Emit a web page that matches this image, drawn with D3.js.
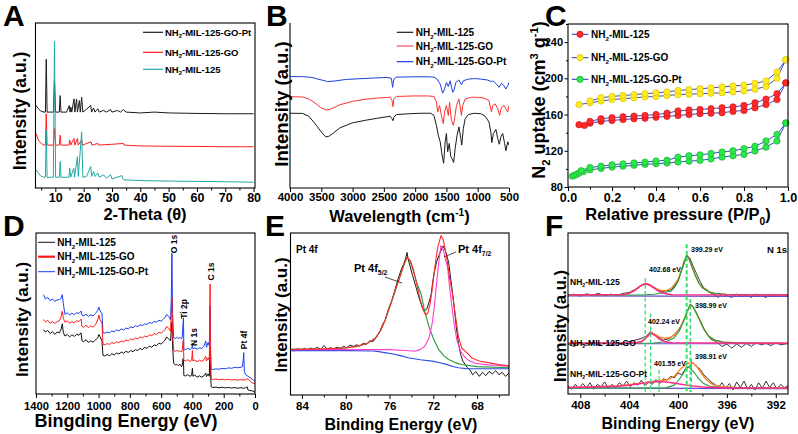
<!DOCTYPE html>
<html><head><meta charset="utf-8">
<script src="https://cdn.jsdelivr.net/npm/d3@7"></script>
<style>body{margin:0;background:#fff}svg{display:block}</style>
</head><body><svg id="c" width="798" height="434"></svg>
<script>
// ================= DATA =================
// ---- Panel A : XRD (2-theta, intensity a.u.) ----
const xrdNames = ["NH2-MIL-125-GO-Pt", "NH2-MIL-125-GO", "NH2-MIL-125"];
const xrdTicks = [10, 20, 30, 40, 50, 60, 70, 80];
const xrdGOPt = [[3.2,50],[4,48],[5,46.5],[6,46],[6.5,46],[6.8,78],[7.1,46],[8,46],[9.3,46],[9.7,65],[10.1,46],[11.4,46],[11.7,56],[12,46],[14,46],[14.9,50],[15.2,46],[15.5,49],[15.8,46],[16.6,54],[16.9,46],[17.5,54],[17.8,46],[18.5,53],[18.8,46],[19.3,55],[19.7,46],[20.5,47],[22.5,50],[22.8,46],[23.5,48.5],[24,46],[25,48],[25.5,46],[27,47],[28,46],[29.5,47.5],[30,46],[32,47],[33,46],[34,47.5],[35,46],[40,45.5],[45,46],[50,45.5],[60,45.2],[70,45],[80,45]];
const xrdGO = [[3.2,33],[4,29],[5,27],[6,26],[6.5,26],[6.8,45],[7.1,26],[9.3,26],[9.7,36],[10.1,26],[11.4,26],[11.7,32],[12,26],[14.8,26],[15.1,29],[15.4,26],[16.6,30],[16.9,26],[17.8,30],[18.1,26],[19.3,29],[19.6,26],[22.6,28],[22.9,26],[25,27],[25.3,26],[30,26.5],[34,27],[34.3,26],[40,25.5],[50,25.3],[60,25.2],[70,25],[80,25]];
const xrdMIL = [[3.2,11],[4,9],[5,7],[6,6.5],[6.5,6.5],[6.8,35],[7.1,6.5],[9.3,6.5],[9.7,89],[10.1,6.5],[11.4,6.5],[11.7,16],[12,6.5],[14.8,6.5],[15.1,12],[15.4,6.5],[16.5,12],[16.8,6.5],[17.8,19],[18.1,7],[19.3,34],[19.7,6.5],[21,7],[22.5,13],[22.8,7],[23.5,10],[24,7],[25,9],[25.5,6.5],[27,8],[28,6],[29.5,8],[30,5.5],[33.5,7.5],[34,5],[40,4.5],[50,4.2],[60,4],[70,3.8],[80,3.5]];

// ---- Panel B : FTIR (wavenumber, transmittance a.u.) ----
const irNames = ["NH2-MIL-125", "NH2-MIL-125-GO", "NH2-MIL-125-GO-Pt"];
const irTicks = [4000, 3500, 3000, 2500, 2000, 1500, 1000, 500];
const irMIL = [[4000,45.3],[3800,45.2],[3700,43.5],[3600,39],[3500,34],[3430,31],[3380,31.3],[3300,33.5],[3200,36.5],[3000,39.5],[2800,41],[2600,42.3],[2400,43.5],[2370,42],[2355,40.8],[2340,42.8],[2300,44.5],[2100,45],[1900,45.3],[1750,45.3],[1700,44],[1660,38],[1630,32],[1600,28],[1570,20],[1545,15],[1520,28],[1500,33],[1480,22],[1455,27],[1430,19],[1400,17],[1385,15.5],[1360,24],[1330,32],[1300,37],[1270,30],[1255,26],[1230,36],[1200,42],[1150,44.5],[1050,45.3],[950,45],[880,43.5],[820,40],[790,34],[775,27.5],[750,33],[710,35.5],[680,30],[655,26.5],[630,31],[600,33],[570,27],[550,22.6],[520,28],[500,26]];
const irGO = [[4000,55.3],[3800,55.2],[3700,54],[3600,51.5],[3500,48.5],[3420,47.3],[3350,47.8],[3200,50.5],[3000,52.5],[2800,53.8],[2600,54.5],[2400,55],[2370,53],[2355,49.3],[2340,54],[2300,55.5],[2000,55.8],[1800,55.8],[1700,55.5],[1660,52],[1640,46],[1610,50],[1580,44],[1550,39],[1530,46],[1500,50],[1470,44],[1450,52],[1420,41],[1390,38],[1370,42],[1340,50],[1300,54],[1260,44],[1240,50],[1200,54],[1100,55],[1000,55],[900,54.5],[820,53],[780,46],[760,50],[720,51],[680,48],[650,44],[620,49],[580,50],[550,48],[520,46],[500,50]];
const irGOPt = [[4000,67.5],[3800,67.5],[3650,67],[3500,65.5],[3400,64.5],[3300,64.8],[3100,65.8],[2900,66.2],[2700,66.6],[2450,67],[2380,66.5],[2360,61],[2340,66],[2300,67.2],[2000,67.4],[1800,67.4],[1700,67.2],[1650,66],[1600,63],[1560,57.5],[1530,60],[1500,64],[1470,61.5],[1440,65],[1400,58],[1380,59],[1350,64],[1300,65.5],[1260,62.5],[1230,65],[1150,66],[1050,66.3],[950,66],[850,65.5],[780,64.5],[760,65],[700,63],[660,61],[620,63.5],[580,62],[550,60],[520,62],[500,64]];

// ---- Panel C : N2 isotherms (P/P0, cm3/g) ----
const betNames = ["NH2-MIL-125", "NH2-MIL-125-GO", "NH2-MIL-125-GO-Pt"];
const betYTicks = [80, 120, 160, 200, 240];
const betXTicks = [0, 0.2, 0.4, 0.6, 0.8, 1.0];
const milAdsP = [0.05,0.075,0.1,0.15,0.2,0.25,0.3,0.35,0.4,0.45,0.5,0.55,0.6,0.65,0.7,0.75,0.8,0.85,0.9,0.95,0.99];
const milAdsV = [148.8,148,150.5,152.5,153.5,154.5,155.3,156,157,158,159,160,161,161.5,162,163.5,164.5,167.5,171,176.5,195];
const milDesP = [0.99,0.95,0.9,0.85,0.8,0.75,0.7,0.65,0.6,0.55,0.5,0.45,0.4,0.35,0.3,0.25,0.2,0.15,0.1];
const milDesV = [195,183,177,173,170,168.5,167.5,166.5,165.7,165,164,161.5,160,159,158.3,157.5,156.5,155.3,152.5];
const goAdsP = [0.05,0.1,0.15,0.2,0.25,0.3,0.35,0.4,0.45,0.5,0.55,0.6,0.65,0.7,0.75,0.8,0.85,0.9,0.95,0.99];
const goAdsV = [171,173,175,176.5,177.5,178.5,179.5,180,181,182,182.5,183,183.5,184,185,186,188,191,200,220.5];
const goDesP = [0.99,0.95,0.9,0.85,0.8,0.75,0.7,0.65,0.6,0.55,0.5,0.45,0.4,0.35,0.3,0.25,0.2,0.15,0.1];
const goDesV = [220.5,207,197,194.5,192.5,191.5,190.5,189.5,188.5,187.5,186.5,185,184,183,182,181,180,178.5,175];
const ptAdsP = [0.02,0.03,0.04,0.05,0.07,0.1,0.15,0.2,0.25,0.3,0.35,0.4,0.45,0.5,0.55,0.6,0.65,0.7,0.75,0.8,0.85,0.9,0.95,0.99];
const ptAdsV = [92,93,94,95.5,97,99,100.5,102,103,104,105,105.7,106.5,107.6,108.5,109.4,111,113,114.5,116,119.7,124,130.8,150.6];
const ptDesP = [0.99,0.95,0.9,0.85,0.8,0.75,0.7,0.65,0.6,0.55,0.5,0.45,0.4,0.35,0.3,0.25,0.2,0.15,0.1,0.06];
const ptDesV = [150.6,138,130.8,125,122.3,120,118.6,117,115.5,114.5,113,109.5,108.7,107.5,106.5,105.5,104.5,103,101.5,98];

// ---- Panel D : XPS survey (binding energy eV, intensity a.u.) ----
const xpsNames = ["NH2-MIL-125", "NH2-MIL-125-GO", "NH2-MIL-125-GO-Pt"];
const xpsTicks = [1400, 1200, 1000, 800, 600, 400, 200, 0];
const xpsPeakLabels = ["O 1s", "Ti 2p", "N 1s", "C 1s", "Pt 4f"];
const xpsMIL = [[1352,40],[1340,38.5],[1325,39.5],[1310,37.5],[1295,38.8],[1280,37],[1265,38.5],[1250,38],[1240,40],[1232,43.6],[1225,38],[1215,36],[1200,37],[1185,35.5],[1170,36.8],[1155,35.8],[1140,37],[1125,36.5],[1112,38],[1106,33],[1095,32.5],[1080,33.8],[1065,32],[1050,33],[1035,32.2],[1020,33.5],[1005,35],[998,37],[990,35.5],[978,33],[972,24],[960,23.6],[945,24.5],[930,23.8],[915,25],[900,24.3],[885,25.5],[870,24.8],[855,26],[840,25.3],[825,26.5],[810,25.8],[795,27],[780,26.3],[765,27.5],[750,27],[735,28.3],[720,27.5],[705,29],[690,28.3],[675,29.8],[660,29],[645,30.5],[630,30],[615,31.5],[600,31],[585,32.5],[575,33.5],[565,35.5],[550,34],[540,33],[535,40],[531,45],[527,30],[520,19],[510,18],[500,18.5],[490,17.5],[480,18.5],[470,17],[465,18],[460,22],[457,21],[455,11.5],[445,11.2],[430,12],[415,11],[405,11.5],[400,16],[397,11],[385,11.8],[370,10.5],[355,11.3],[340,10.5],[325,11.5],[315,13],[310,10.8],[300,12.5],[292,11],[287,35],[284,12],[280,4.5],[270,4],[250,4.3],[230,3.8],[210,4.2],[190,3.8],[170,4.1],[150,3.7],[130,4],[110,3.6],[90,3.9],[75,3.6],[60,3.8],[50,4.5],[45,2.5],[35,2.3],[20,2],[5,1.5],[2,1]];
const xpsGO = [[1352,46.3],[1340,44.8],[1325,45.8],[1310,44],[1295,45],[1280,43.8],[1265,45],[1250,45.5],[1240,48],[1232,51.4],[1225,47],[1215,44.5],[1200,45.5],[1185,44],[1170,45],[1155,44.2],[1140,45.5],[1125,45],[1112,46.5],[1106,42],[1095,41.5],[1080,42.8],[1065,41.2],[1050,42.3],[1035,41.5],[1020,43],[1005,46],[998,49],[990,46],[978,44],[972,31],[960,30.5],[945,31.3],[930,30.8],[915,32],[900,31.3],[885,32.5],[870,31.8],[855,33],[840,32.4],[825,33.6],[810,33],[795,34.2],[780,33.6],[765,34.8],[750,34.2],[735,35.5],[720,34.8],[705,36],[690,35.5],[675,36.8],[660,36.2],[645,37.5],[630,37],[615,38.3],[600,37.8],[585,39],[575,40],[565,42],[550,40.5],[540,39],[535,50],[531,60],[527,38],[520,27],[510,26.5],[500,27.3],[490,26.2],[480,27],[470,26],[465,27],[460,33],[457,34],[455,21],[445,20.5],[430,21.3],[415,20.2],[405,21],[400,27],[397,20.5],[385,21.2],[370,20],[355,21],[340,20.3],[325,21.5],[315,23.5],[310,20.5],[300,22.5],[292,21],[287,68.3],[284,20],[280,9.3],[270,9],[250,9.3],[230,8.8],[210,9.2],[190,8.8],[170,9.1],[150,8.7],[130,9],[110,8.6],[90,8.9],[75,8.7],[60,8.9],[50,9.5],[40,9],[30,8],[20,7],[5,6.5],[2,6.8]];
const xpsGOPt = [[1352,61.7],[1340,59],[1325,60],[1310,58],[1295,59],[1280,57.5],[1265,58.5],[1250,58.6],[1240,59.5],[1232,61.7],[1225,56],[1215,49.4],[1200,50.5],[1185,49],[1170,50.2],[1155,49.3],[1140,50.5],[1125,50],[1112,51.5],[1106,49],[1095,48.5],[1080,49.5],[1065,48.2],[1050,49.2],[1035,48.5],[1020,50],[1005,52],[998,54],[990,51.5],[978,50],[972,38],[960,37.8],[945,38.5],[930,38],[915,39.2],[900,38.6],[885,39.8],[870,39.2],[855,40.4],[840,39.8],[825,41],[810,40.5],[795,41.7],[780,41.2],[765,42.4],[750,41.8],[735,43],[720,42.5],[705,43.6],[690,43.2],[675,44.4],[660,43.9],[645,45.1],[630,44.6],[615,45.8],[600,45.3],[585,46.5],[575,47.5],[565,49.4],[550,48],[540,46],[535,60],[531,87.4],[527,50],[520,35],[510,34.5],[500,35.3],[490,34.3],[480,35.2],[470,34.2],[465,35.5],[460,44],[457,47.3],[455,28],[445,27.5],[430,28.4],[415,27.6],[405,28.5],[400,30],[397,28],[385,28.6],[370,27.8],[355,28.8],[340,28.2],[325,30],[315,33],[310,29],[300,32],[292,30],[287,55],[284,28],[280,15.4],[270,15.2],[250,15.6],[230,15.4],[210,15.9],[190,15.7],[170,16.2],[150,16],[130,16.5],[110,16.3],[90,16.6],[80,17],[75,22],[72,25.7],[68,14],[60,12],[45,11],[30,10],[15,9],[2,8]];

// ---- Panel E : Pt 4f (binding energy eV, intensity a.u.) ----
const ptTicks = [84, 80, 76, 72, 68];
const pt4fRaw = [[85.05,28],[84.7,27.2],[84.4,28.6],[84.1,27.5],[83.8,28.8],[83.5,27.8],[83.2,29],[82.9,28.2],[82.6,29.5],[82.3,28],[82,30.5],[81.7,28.5],[81.4,29.2],[81.1,28.3],[80.8,29.5],[80.5,28.8],[80.2,30],[79.9,29.2],[79.6,30.8],[79.3,30],[79,31],[78.7,30.2],[78.4,32],[78.1,31.2],[77.8,33.5],[77.5,33],[77.2,35.5],[76.9,39],[76.6,44],[76.4,46],[76.1,53],[75.8,58],[75.5,65],[75.2,72],[74.9,78],[74.7,81],[74.5,85],[74.4,88],[74.3,84],[74.1,79],[73.9,74],[73.6,67],[73.3,60],[73,54],[72.8,52],[72.6,53],[72.4,57],[72.2,62],[72.05,70],[71.9,76],[71.7,82],[71.5,86],[71.3,89],[71.1,92],[70.95,90],[70.8,87],[70.6,82],[70.45,74],[70.3,66],[70.1,55],[69.9,42],[69.7,32],[69.5,25],[69.3,21],[69.1,19],[68.9,17],[68.65,15.5],[68.4,12.5],[68.1,14.5],[67.8,11.5],[67.5,14],[67.2,12],[66.9,14.5],[66.6,13],[66.3,15],[66,12.5],[65.7,14],[65.4,11.5],[65.08,13.5]];
const pt4fEnvelope = [[85.05,28.2],[82,28.5],[80,29.2],[79,30],[78,32],[77.3,35],[76.8,40],[76.4,46.3],[76,54],[75.5,64],[75,74],[74.7,80],[74.4,85],[74.1,83],[73.8,77],[73.5,68],[73.2,59],[72.9,52],[72.7,49.5],[72.5,50.5],[72.3,56],[72.1,65],[71.9,77],[71.6,91],[71.3,98.4],[71.1,96],[70.8,86],[70.5,72],[70.3,64.8],[70,50],[69.7,36],[69.4,29],[68.9,25.8],[68.5,23],[67.8,21],[67,20],[66,18.8],[65.08,18]];
const pt4f52 = [[85.05,28.2],[82,28.4],[80,29],[79,30],[78,32],[77.3,35],[76.8,40],[76.4,46.3],[76,54],[75.5,64],[75,74],[74.7,80],[74.4,85],[74.1,82.5],[73.8,76],[73.5,69],[73.1,62],[72.8,52],[72.4,42.3],[72,35],[71.5,28],[71,24],[70.6,21.9],[70,20],[69.4,18.8],[68,17.5],[65.08,16.8]];
const pt4f72 = [[85.05,28],[80,28],[76,28],[74.5,27.5],[73.7,27],[73.2,28],[72.8,30],[72.4,35],[72.1,44],[71.9,55],[71.7,69],[71.5,82],[71.3,92.2],[71.1,90],[70.9,84],[70.7,79],[70.5,66],[70.3,54.6],[70.1,44],[69.85,34],[69.5,27],[69.2,23.9],[68.8,21.5],[68.2,19.6],[67,18.6],[65.08,17.8]];
const pt4fBackground = [[85.05,27.4],[80,27.4],[77.5,27.2],[77,26.8],[76.3,26],[75.8,25.5],[75,24.3],[74.3,23],[73.2,21.8],[72.1,20.9],[71.4,19.9],[70.8,18.9],[70.2,17.6],[69.7,16.8],[69,16.3],[68.5,16.2],[65.08,16.2]];

// ---- Panel F : N 1s (binding energy eV, intensity a.u.) ----
const nTicks = [408, 404, 400, 396, 392];
const nPeakCenters = [402.68, 399.29, 402.24, 398.99, 401.55, 398.91];
const nMILRaw = [[409,61],[408.5,62],[408,60.8],[407.5,62.2],[407,61.5],[406.5,62.5],[406,61],[405.5,62],[405,61.2],[404.5,62.5],[404,63],[403.5,65],[403,67.5],[402.7,68.8],[402.3,68],[402,66.5],[401.6,64.5],[401.2,63.5],[400.9,64.5],[400.6,63.5],[400.3,66],[400,70],[399.7,77],[399.4,83],[399.25,86],[399,84],[398.8,80],[398.5,75],[398.2,70],[397.9,66],[397.6,64.5],[397.3,62.5],[397,61.5],[396.7,60],[396.4,62],[396,61],[395.6,60],[395.2,62],[394.8,60.5],[394.4,61.5],[394,60],[393.6,62],[393.2,61],[392.8,60],[392.4,62],[392,61],[391.6,60.5],[391.2,61.5],[391,61]];
const nMILMain = [[409,61.5],[403,61.5],[402,62],[401,63],[400.5,65],[400,70],[399.7,77],[399.5,82],[399.29,86],[399.1,84],[398.9,80],[398.6,74],[398.3,69],[398,66],[397.5,63.5],[397,62.5],[396,61.8],[391,61.5]];
const nMILMinor = [[409,61.5],[404.5,61.8],[404,62.5],[403.5,64.5],[403.1,67],[402.68,68.5],[402.3,67.5],[401.9,65.5],[401.5,63.5],[401,62.2],[400.5,61.7],[391,61.5]];
const nMILSum = [[409,61.5],[404.5,61.8],[404,62.5],[403.5,64.5],[403.1,67],[402.68,68.5],[402.3,67.6],[401.9,66],[401.5,64.5],[401,64],[400.5,66],[400,71],[399.7,77.5],[399.5,82.5],[399.29,86.2],[399.1,84],[398.9,80],[398.6,74],[398.3,69],[398,66],[397.5,63.5],[397,62.5],[396,61.8],[391,61.5]];
const nMILBase = [[409,61],[391,60.6]];
const nGORaw = [[409,31],[408.5,29.5],[408,31.5],[407.5,30],[407,32],[406.5,30.5],[406,31.8],[405.5,30.2],[405,31.5],[404.5,30.5],[404,32.5],[403.5,33.5],[403,34.5],[402.6,36],[402.24,38.7],[401.9,37],[401.5,34.5],[401.2,33.5],[400.9,34],[400.6,35],[400.3,37],[400,39.5],[399.7,43],[399.4,48],[399.15,53],[398.99,55.7],[398.75,54],[398.5,50],[398.2,46],[397.9,41],[397.6,37],[397.3,34],[397,33],[396.7,31.5],[396.4,29.5],[396,31],[395.6,28.5],[395.2,31],[394.8,29],[394.4,31.5],[394,29.5],[393.6,32],[393.2,30.5],[392.8,31.5],[392.4,30],[392,32],[391.6,30.5],[391,31.5]];
const nGOMain = [[409,31.5],[402,31.7],[401,32.5],[400.3,35],[399.9,39],[399.5,46],[399.2,52],[398.99,55.5],[398.8,54.5],[398.5,50.5],[398.2,45.5],[397.9,40.5],[397.5,36],[397,33.5],[396.3,32.2],[395,31.7],[391,31.5]];
const nGOMinor = [[409,31.5],[403.5,31.8],[403,32.5],[402.6,35],[402.24,37.8],[401.9,36.5],[401.5,34],[401.1,32.5],[400.5,31.8],[391,31.5]];
const nGOSum = [[409,31.5],[403.5,31.8],[403,32.5],[402.6,35],[402.24,37.9],[401.9,37],[401.5,35.3],[401.1,34.5],[400.7,35],[400.3,36.5],[399.9,40],[399.5,46.5],[399.2,52.2],[398.99,55.6],[398.8,54.6],[398.5,50.5],[398.2,45.5],[397.9,40.5],[397.5,36],[397,33.5],[396.3,32.2],[395,31.7],[391,31.5]];
const nGOBase = [[409,31.2],[391,31.2]];
const nPtRaw = [[409,5],[408.7,3],[408.4,6],[408.1,3.5],[407.8,6.5],[407.5,4],[407.2,7],[406.9,3],[406.6,6],[406.3,4.5],[406,7.5],[405.7,3.5],[405.4,6],[405.1,4],[404.8,7],[404.5,5],[404.2,8],[403.9,4.5],[403.6,7],[403.3,5.5],[403,8.5],[402.7,5],[402.4,7.5],[402.1,6],[401.8,9],[401.5,6.5],[401.2,9.5],[400.9,8.5],[400.6,11],[400.3,10],[400,13],[399.7,12],[399.4,15.5],[399.1,17],[398.8,19.5],[398.5,17],[398.2,15.5],[397.9,12],[397.6,10],[397.3,7.5],[397,6],[396.7,4],[396.4,7],[396.1,3.5],[395.8,6.5],[395.5,2.5],[395.2,7.5],[394.9,4],[394.6,8],[394.3,3],[394,6],[393.7,2.5],[393.4,7],[393.1,3.5],[392.8,8],[392.5,4],[392.2,7],[391.9,3],[391.6,6],[391.3,4],[391,5]];
const nPtMain = [[409,3.6],[401,3.8],[400.3,5.5],[399.9,9],[399.5,13.5],[399.29,17],[399,16],[398.7,13.5],[398.3,9.5],[397.9,6.5],[397.4,4.8],[396.5,4],[391,3.6]];
const nPtMinor = [[409,4],[405,4.8],[404,5.5],[403,6.5],[402.3,7.3],[401.55,7.7],[400.8,7.3],[400,6.3],[399,5.2],[398,4.4],[396,3.8],[391,3.6]];
const nPtSum = [[409,4],[405,5],[404,5.8],[403,6.8],[402.3,7.6],[401.55,8.2],[400.8,9],[400.3,11],[399.9,14.5],[399.5,17.5],[399.1,19.2],[398.85,19.5],[398.5,17.5],[398.1,13],[397.7,9],[397.2,6],[396.5,4.5],[395,3.9],[391,3.7]];
const nPtBase = [[409,3.8],[391,3.3]];

// ================= DRAWING =================
const FONT = '"Liberation Sans", Arial, Helvetica, sans-serif';
const svg = d3.select('#c');
svg.append('rect').attr('width', 798).attr('height', 434).attr('fill', '#fff');

function rich(g, x, y, parts, size, anchor, rotate) {
  const t = g.append('text').attr('font-family', FONT).attr('font-weight', 'bold')
    .attr('font-size', size).attr('text-anchor', anchor || 'start').attr('fill', '#000');
  if (rotate) t.attr('transform', `translate(${x},${y}) rotate(${rotate})`);
  else t.attr('x', x).attr('y', y);
  let shift = 0;
  parts.forEach(p => {
    const s = typeof p === 'string' ? { t: p } : p;
    const ts = t.append('tspan').text(s.t);
    const target = s.sub ? 0.28 * size : s.sup ? -0.38 * size : 0;
    if (target !== shift) ts.attr('dy', target - shift);
    shift = target;
    if (s.sub || s.sup) ts.attr('font-size', size * 0.62);
  });
  return t;
}
const NH2 = (rest) => ['NH', { t: '2', sub: 1 }, rest];

function frame(L, R, T, B, full) {
  if (full) svg.append('rect').attr('x', L).attr('y', T).attr('width', R - L).attr('height', B - T)
    .attr('fill', 'none').attr('stroke', '#000').attr('stroke-width', 1.1);
  else svg.append('path').attr('d', `M${L},${T}V${B}H${R}`).attr('fill', 'none').attr('stroke', '#000').attr('stroke-width', 1.1);
}
function bottomAxis(scale, y, majors, minors, fs, pad, fmt) {
  const g = svg.append('g').attr('transform', `translate(0,${y})`)
    .call(d3.axisBottom(scale).tickValues(majors).tickSize(4).tickPadding(pad).tickFormat(fmt || (d => d)));
  g.attr('font-family', FONT).attr('font-size', fs).attr('font-weight', 'bold');
  g.select('.domain').remove();
  g.selectAll('line').attr('stroke', '#000');
  g.selectAll('text').attr('fill', '#000');
  if (minors && minors.length) {
    const m = svg.append('g').attr('transform', `translate(0,${y})`)
      .call(d3.axisBottom(scale).tickValues(minors).tickSize(2.5).tickFormat(''));
    m.select('.domain').remove();
    m.selectAll('line').attr('stroke', '#000');
  }
}
function clip(id, L, R, T, B) {
  svg.append('clipPath').attr('id', id).append('rect').attr('x', L).attr('y', T).attr('width', R - L).attr('height', B - T);
  return svg.append('g').attr('clip-path', `url(#${id})`);
}
function panelLetter(t, x, y) {
  svg.append('text').attr('x', x).attr('y', y).text(t).attr('font-family', FONT)
    .attr('font-weight', 'bold').attr('font-size', 30).attr('fill', '#000');
}
function drawLine(g, data, x, y, color, w) {
  g.append('path').datum(data).attr('fill', 'none').attr('stroke', color).attr('stroke-width', w || 1)
    .attr('stroke-linejoin', 'round').attr('d', d3.line().x(d => x(d[0])).y(d => y(d[1])));
}
function legendLine(x1, x2, y, color, w, tx, parts, fs) {
  svg.append('line').attr('x1', x1).attr('x2', x2).attr('y1', y).attr('y2', y).attr('stroke', color).attr('stroke-width', w);
  rich(svg, tx, y + fs * 0.36, parts, fs);
}

// ---------- Panel A ----------
{
  const L = 35.5, R = 255, T = 23, B = 188;
  const x = d3.scaleLinear().domain([3, 80.5]).range([L, R]);
  const y = d3.scaleLinear().domain([0, 100]).range([B, T]);
  const g = clip('ca', L, R, T, B);
  drawLine(g, xrdGOPt, x, y, '#1a1a1a', 1);
  drawLine(g, xrdGO, x, y, '#ff1c1c', 1);
  drawLine(g, xrdMIL, x, y, '#22a8a2', 1);
  frame(L, R, T, B, true);
  bottomAxis(x, B, xrdTicks, [5, 15, 25, 35, 45, 55, 65, 75], 12.5, 1);
  const cols = ['#1a1a1a', '#ff1c1c', '#22a8a2'];
  const ys = [32.3, 52.3, 69.3];
  xrdNames.forEach((n, i) => legendLine(143, 163, ys[i], cols[i], 1.2, 165, NH2(n.slice(3)), 9.5));
  rich(svg, 145, 220, ['2-Theta (θ)'], 16.5, 'middle');
  rich(svg, 25.5, 111, ['Intensity (a.u.)'], 17.5, 'middle', -90);
  panelLetter('A', 3, 26);
}

// ---------- Panel B ----------
{
  const L = 290, R = 509, T = 23, B = 188;
  const x = d3.scaleLinear().domain([4000, 500]).range([L, R]);
  const y = d3.scaleLinear().domain([0, 100]).range([B, T]);
  const g = clip('cb', L, R, T, B);
  drawLine(g, irMIL, x, y, '#1a1a1a', 1);
  drawLine(g, irGO, x, y, '#ff3030', 1);
  drawLine(g, irGOPt, x, y, '#1f3fdc', 1);
  frame(L, R, T, B, false);
  bottomAxis(x, B, irTicks, [], 11.5, 0.5);
  const cols = ['#1a1a1a', '#f05050', '#1f3fdc'];
  const ys = [32.3, 46, 61.7];
  irNames.forEach((n, i) => legendLine(396.7, 413.3, ys[i], cols[i], 1.2, 415.7, NH2(n.slice(3)), 10));
  rich(svg, 399.5, 222, ['Wavelength (cm', { t: '-1', sup: 1 }, ')'], 16.5, 'middle');
  rich(svg, 288, 104, ['Intensity (a.u.)'], 18.5, 'middle', -90);
  panelLetter('B', 266, 26);
}

// ---------- Panel C ----------
{
  const L = 568, R = 788, T = 24, B = 187;
  const x = d3.scaleLinear().domain([0, 1]).range([L, R]);
  const y = d3.scaleLinear().domain([80, 260]).range([B, T]);
  const series = [
    { ads: d3.zip(milAdsP, milAdsV), des: d3.zip(milDesP, milDesV), fill: '#ff2a2a', stroke: '#cc1010' },
    { ads: d3.zip(goAdsP, goAdsV), des: d3.zip(goDesP, goDesV), fill: '#ffec20', stroke: '#d2bc00' },
    { ads: d3.zip(ptAdsP, ptAdsV), des: d3.zip(ptDesP, ptDesV), fill: '#2de84a', stroke: '#12a82c' }
  ];
  const g = svg.append('g');
  series.forEach(s => {
    drawLine(g, s.ads, x, y, '#2436c8', 0.9);
    drawLine(g, s.des, x, y, '#2436c8', 0.9);
  });
  series.forEach(s => {
    g.selectAll(null).data(s.ads.concat(s.des)).enter().append('circle')
      .attr('cx', d => x(d[0])).attr('cy', d => y(d[1])).attr('r', 3.2)
      .attr('fill', s.fill).attr('stroke', s.stroke).attr('stroke-width', 0.6);
  });
  frame(L, R, T, B, true);
  bottomAxis(x, B, betXTicks, [0.1, 0.3, 0.5, 0.7, 0.9], 12.5, 2, d3.format('.1f'));
  const ya = svg.append('g').attr('transform', `translate(${L},0)`)
    .call(d3.axisLeft(y).tickValues(betYTicks).tickSize(3.5).tickPadding(1.5));
  ya.attr('font-family', FONT).attr('font-size', 11).attr('font-weight', 'bold');
  ya.select('.domain').remove(); ya.selectAll('line').attr('stroke', '#000'); ya.selectAll('text').attr('fill', '#000');
  const ym = svg.append('g').attr('transform', `translate(${L},0)`)
    .call(d3.axisLeft(y).tickValues([100, 140, 180, 220, 260]).tickSize(2).tickFormat(''));
  ym.select('.domain').remove(); ym.selectAll('line').attr('stroke', '#000');
  const ys = [34.3, 57.7, 79.3];
  betNames.forEach((n, i) => {
    legendLine(571.7, 588.3, ys[i], '#2436c8', 1, 591, NH2(n.slice(3)), 10);
    svg.append('circle').attr('cx', 580).attr('cy', ys[i]).attr('r', 3.2)
      .attr('fill', series[i].fill).attr('stroke', series[i].stroke).attr('stroke-width', 0.6);
  });
  rich(svg, 678, 220, ['Relative pressure (P/P', { t: '0', sub: 1 }, ')'], 16.5, 'middle');
  rich(svg, 545, 100, ['N', { t: '2', sub: 1 }, ' uptake (cm', { t: '3', sup: 1 }, ' g', { t: '-1', sup: 1 }, ')'], 18, 'middle', -90);
  panelLetter('C', 545, 26);
}

// ---------- Panel D ----------
{
  const L = 36, R = 255, T = 233, B = 394;
  const x = d3.scaleLinear().domain([1400, 0]).range([L, R]);
  const y = d3.scaleLinear().domain([0, 100]).range([B, T]);
  const g = clip('cd', L, R, T, B);
  drawLine(g, xpsMIL, x, y, '#111', 1);
  drawLine(g, xpsGOPt, x, y, '#1a3ff2', 1);
  drawLine(g, xpsGO, x, y, '#ff1a1a', 1);
  frame(L, R, T, B, true);
  bottomAxis(x, B, xpsTicks, [1300, 1100, 900, 700, 500, 300, 100], 11.2, 4);
  const cols = ['#111', '#ff1a1a', '#1a3ff2'];
  const ws = [1, 2.2, 1];
  const ys = [242.3, 256.7, 271.7];
  xpsNames.forEach((n, i) => legendLine(38, 55, ys[i], cols[i], ws[i], 57.3, NH2(n.slice(3)), 10));
  const lblPos = [[176.5, 244], [186.5, 309], [196.5, 337], [214, 271.5], [247, 340]];
  xpsPeakLabels.forEach((t, i) => rich(svg, lblPos[i][0], lblPos[i][1], [t], 8.5, 'middle', -90));
  rich(svg, 126, 427, ['Bingding Energy (eV)'], 18, 'middle');
  rich(svg, 28, 319.5, ['Intensity (a.u.)'], 17, 'middle', -90);
  panelLetter('D', 3, 236);
}

// ---------- Panel E ----------
{
  const L = 290.5, R = 509, T = 233, B = 395;
  const x = d3.scaleLinear().domain([85.05, 65.08]).range([L, R]);
  const y = d3.scaleLinear().domain([0, 100]).range([B, T]);
  const g = clip('ce', L, R, T, B);
  drawLine(g, pt4fRaw, x, y, '#1a1a1a', 1);
  drawLine(g, pt4fBackground, x, y, '#2a4ee0', 1.1);
  drawLine(g, pt4f52, x, y, '#259a3c', 1.1);
  drawLine(g, pt4f72, x, y, '#ff3cd2', 1.1);
  drawLine(g, pt4fEnvelope, x, y, '#ff2a2a', 1.1);
  frame(L, R, T, B, true);
  bottomAxis(x, B, ptTicks, [82, 78, 74, 70, 66], 11.5, 2.5);
  rich(svg, 296, 253, ['Pt 4f'], 10);
  rich(svg, 354, 272, ['Pt 4f', { t: '5/2', sub: 1 }], 11);
  svg.append('line').attr('x1', 385).attr('y1', 277).attr('x2', 402).attr('y2', 283).attr('stroke', '#222').attr('stroke-width', 0.8);
  rich(svg, 458, 253, ['Pt 4f', { t: '7/2', sub: 1 }], 11);
  svg.append('line').attr('x1', 456).attr('y1', 252).attr('x2', 444).attr('y2', 257).attr('stroke', '#222').attr('stroke-width', 0.8);
  rich(svg, 401, 429.5, ['Binding Energy (eV)'], 16, 'middle');
  rich(svg, 286.5, 315, ['Intensity (a.u.)'], 17, 'middle', -90);
  panelLetter('E', 265, 236);
}

// ---------- Panel F ----------
{
  const L = 568, R = 788, T = 233, B = 394;
  const x = d3.scaleLinear().domain([409, 391]).range([L, R]);
  const y = d3.scaleLinear().domain([0, 100]).range([B, T]);
  const g = clip('cf', L, R, T, B);
  const groups = [
    [nMILRaw, nMILBase, nMILMinor, nMILSum, nMILMain],
    [nGORaw, nGOBase, nGOMinor, nGOSum, nGOMain],
    [nPtRaw, nPtBase, nPtMinor, nPtSum, nPtMain]
  ];
  groups.forEach(([raw, base, minor, sum, main]) => {
    drawLine(g, raw, x, y, '#222', 0.9);
    drawLine(g, base, x, y, '#6a48c8', 1.2);
    drawLine(g, sum, x, y, '#ff7a1a', 1.3);
    drawLine(g, main, x, y, '#23a03a', 1.1);
    drawLine(g, minor, x, y, '#ff2a8c', 1.5);
  });
  const dashTops = [72, 93, 50, 59, 15, 22];
  const dashW = [1.3, 2, 1.3, 1.6, 1.3, 1.3];
  nPeakCenters.forEach((c, i) => {
    svg.append('line').attr('x1', x(c)).attr('x2', x(c)).attr('y1', y(dashTops[i])).attr('y2', B - 2)
      .attr('stroke', '#2ee06a').attr('stroke-width', dashW[i]).attr('stroke-dasharray', '4,2.5');
  });
  frame(L, R, T, B, true);
  bottomAxis(x, B, nTicks, [406, 402, 398, 394], 11.5, 2.5);
  const eLabels = [['399.29 eV', 691, 252], ['402.68 eV', 649, 272], ['398.99 eV', 695, 308], ['402.24 eV', 648, 323.5], ['398.91 eV', 695, 358.5], ['401.55 eV', 654, 365.5]];
  eLabels.forEach(l => rich(svg, l[1], l[2], [l[0]], 7));
  rich(svg, 767, 253, ['N 1s'], 9.5);
  rich(svg, 570, 285, NH2('-MIL-125'), 8.5);
  rich(svg, 570, 346, NH2('-MIL-125-GO'), 8.5);
  rich(svg, 570, 377, NH2('-MIL-125-GO-Pt'), 8.5);
  rich(svg, 678, 429, ['Binding Energy (eV)'], 16, 'middle');
  rich(svg, 566, 326, ['Intensity (a.u.)'], 16.5, 'middle', -90);
  panelLetter('F', 545, 236);
}
</script></body></html>
